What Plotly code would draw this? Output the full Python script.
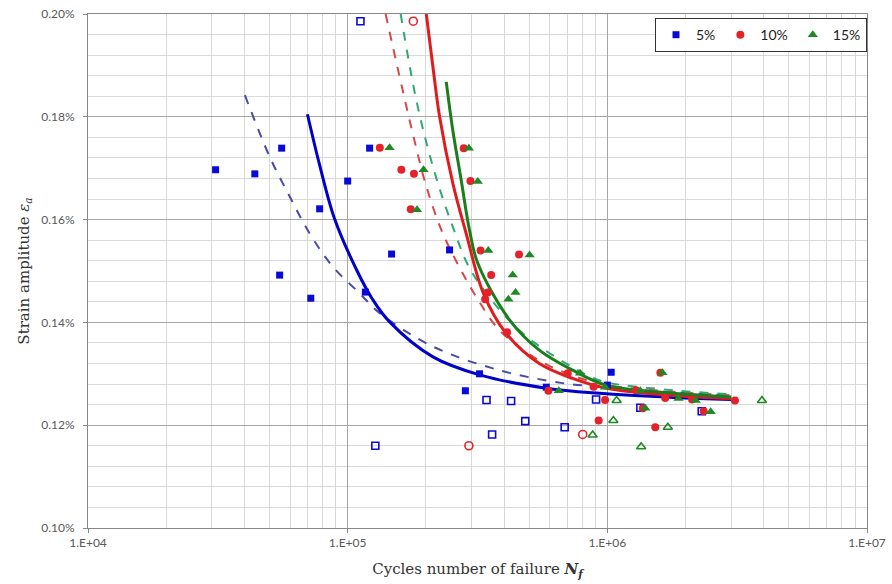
import plotly.graph_objects as go

# ---------- data (strain amplitude in %) ----------
n5_fill = [31000, 43900, 55700, 54700, 72100, 78000, 100000, 117000, 121500, 147600, 246800, 284000, 322000, 582000, 1035000, 1000000]
e5_fill = [0.1697, 0.1689, 0.1739, 0.1492, 0.1447, 0.1621, 0.1675, 0.1459, 0.1739, 0.1533, 0.1541, 0.1267, 0.1300, 0.1274, 0.1303, 0.1278]
n5_open = [112000, 127800, 342500, 360000, 426000, 483000, 685000, 905000, 1340000, 2310000]
e5_open = [0.1986, 0.1160, 0.1249, 0.1182, 0.1247, 0.1208, 0.1196, 0.1250, 0.1234, 0.1227]

n10_fill = [133000, 161000, 180000, 175000, 280000, 297000, 325000, 457000, 357000, 346600, 338500, 411000, 704000, 593000, 885000, 980000, 926000, 1600000, 1290000, 1670000, 2120000, 3100000, 1530000, 1370000, 2350000]
e10_fill = [0.1740, 0.1697, 0.1689, 0.1620, 0.1739, 0.1675, 0.1540, 0.1532, 0.1492, 0.1458, 0.1445, 0.1381, 0.1301, 0.1267, 0.1275, 0.1249, 0.1209, 0.1302, 0.1268, 0.1253, 0.1250, 0.1248, 0.1196, 0.1233, 0.1227]
n10_open = [179000, 293000, 804000]
e10_open = [0.1986, 0.1160, 0.1182]

n15_fill = [145000, 196000, 185000, 293000, 317000, 348000, 502000, 432000, 443000, 416000, 785000, 650000, 980000, 1630000, 1340000, 1880000, 2190000, 1400000, 2500000]
e15_fill = [0.1740, 0.1697, 0.1619, 0.1739, 0.1674, 0.1540, 0.1531, 0.1492, 0.1458, 0.1445, 0.1301, 0.1267, 0.1274, 0.1302, 0.1267, 0.1252, 0.1248, 0.1233, 0.1226]
n15_open = [1086000, 1055000, 878000, 1710000, 1350000, 3940000]
e15_open = [0.1248, 0.1209, 0.1181, 0.1196, 0.1158, 0.1248]

# fitted curves
fit5_n = [70000, 78000, 89100, 108300, 125000, 145000, 213000, 322000, 582000, 935000, 1800000, 3000000]
fit5_e = [0.1805, 0.1706, 0.1601, 0.1502, 0.1444, 0.1401, 0.1333, 0.1298, 0.1272, 0.1262, 0.1254, 0.1250]
fit5d_n = [40200, 50100, 59800, 71400, 87800, 111000, 132800, 213000, 384000, 690000, 935000, 1800000, 3000000]
fit5d_e = [0.1842, 0.1722, 0.1645, 0.1573, 0.1508, 0.1457, 0.1418, 0.1353, 0.1307, 0.1281, 0.1275, 0.1264, 0.1258]

fit10_n = [200800, 213000, 226000, 254000, 286000, 333000, 407000, 547000, 735000, 990000, 1800000, 3000000]
fit10_e = [0.2000, 0.1897, 0.1800, 0.1671, 0.1573, 0.1457, 0.1379, 0.1320, 0.1291, 0.1272, 0.1258, 0.1252]
fit10d_n = [140000, 158500, 178000, 201000, 232600, 277600, 312600, 384000, 550000, 750000, 1000000, 1800000, 3000000]
fit10d_e = [0.2000, 0.1878, 0.1768, 0.1664, 0.1573, 0.1495, 0.1450, 0.1385, 0.1325, 0.1295, 0.1278, 0.1265, 0.1258]

fit15_n = [239700, 254000, 273600, 294500, 317000, 420000, 547000, 735000, 990000, 1800000, 3000000]
fit15_e = [0.1868, 0.1774, 0.1677, 0.1580, 0.1515, 0.1405, 0.1346, 0.1307, 0.1278, 0.1262, 0.1255]
fit15d_n = [160000, 183700, 213000, 254000, 303000, 472000, 855000, 1000000, 1800000, 3000000]
fit15d_e = [0.2000, 0.1833, 0.1703, 0.1586, 0.1495, 0.1379, 0.1295, 0.1283, 0.1268, 0.1260]

x_tickvals = [1e4, 1e5, 1e6, 1e7]
x_ticktext = ["1.E+04", "1.E+05", "1.E+06", "1.E+07"]
x_minorvals = [m * d for d in (1e4, 1e5, 1e6) for m in range(2, 10)]
y_tickvals = [0.10, 0.12, 0.14, 0.16, 0.18, 0.20]
y_ticktext = ["0.10%", "0.12%", "0.14%", "0.16%", "0.18%", "0.20%"]

BLUE = "#0a0ad8"
RED = "#e4222a"
GREEN = "#1f8a24"

fig = go.Figure()

# fit lines
fig.add_trace(go.Scatter(x=fit5d_n, y=fit5d_e, mode="lines", line=dict(color="#4a4aa8", width=2, dash="dash", shape="spline"), showlegend=False))
fig.add_trace(go.Scatter(x=fit10d_n, y=fit10d_e, mode="lines", line=dict(color="#d24a4a", width=2, dash="dash", shape="spline"), showlegend=False))
fig.add_trace(go.Scatter(x=fit15d_n, y=fit15d_e, mode="lines", line=dict(color="#2fa873", width=2, dash="dash", shape="spline"), showlegend=False))
fig.add_trace(go.Scatter(x=fit5_n, y=fit5_e, mode="lines", line=dict(color="#0000c8", width=3, shape="spline"), showlegend=False))
fig.add_trace(go.Scatter(x=fit10_n, y=fit10_e, mode="lines", line=dict(color="#e01c1c", width=3, shape="spline"), showlegend=False))
fig.add_trace(go.Scatter(x=fit15_n, y=fit15_e, mode="lines", line=dict(color="#1b7d1b", width=3, shape="spline"), showlegend=False))

# open markers
fig.add_trace(go.Scatter(x=n5_open, y=e5_open, mode="markers", marker=dict(symbol="square-open", size=7, color=BLUE, line=dict(width=1.6)), showlegend=False))
fig.add_trace(go.Scatter(x=n10_open, y=e10_open, mode="markers", marker=dict(symbol="circle-open", size=8, color=RED, line=dict(width=1.6)), showlegend=False))
fig.add_trace(go.Scatter(x=n15_open, y=e15_open, mode="markers", marker=dict(symbol="triangle-up-open", size=8, color=GREEN, line=dict(width=1.6)), showlegend=False))

# filled markers (legend)
fig.add_trace(go.Scatter(x=n5_fill, y=e5_fill, mode="markers", name="5%", marker=dict(symbol="square", size=7, color=BLUE)))
fig.add_trace(go.Scatter(x=n10_fill, y=e10_fill, mode="markers", name="10%", marker=dict(symbol="circle", size=8, color=RED)))
fig.add_trace(go.Scatter(x=n15_fill, y=e15_fill, mode="markers", name="15%", marker=dict(symbol="triangle-up", size=9, color=GREEN)))

fig.update_layout(
    width=892, height=584,
    margin=dict(l=88, r=25, t=14, b=56, autoexpand=False),
    paper_bgcolor="white", plot_bgcolor="white",
    font=dict(family="Lato", size=12, color="#595959"),
    legend=dict(orientation="h", x=1.0, xanchor="right", y=0.992, yanchor="top",
                bordercolor="#333333", borderwidth=1, bgcolor="white",
                font=dict(family="Lato", size=14, color="#222222"),
                itemwidth=30, tracegroupgap=0),
)
fig.update_xaxes(
    type="log", range=[4, 7], automargin=False,
    tickvals=x_tickvals, ticktext=x_ticktext, ticklabeloverflow="allow",
    showgrid=True, gridcolor="#a6a6a6", gridwidth=1,
    minor=dict(showgrid=True, gridcolor="#d9d9d9", tickmode="array", tickvals=x_minorvals, ticks=""),
    showline=True, linecolor="#888888", mirror=True,
    ticks="outside", ticklen=4, tickcolor="#888888",
    zeroline=False,
    title=dict(text="Cycles number of failure <b><i>N<sub>f</sub></i></b>",
               font=dict(family="DejaVu Serif", size=15, color="#333333"), standoff=14),
)
fig.update_yaxes(
    range=[0.10, 0.20], automargin=False,
    tickvals=y_tickvals, ticktext=y_ticktext, ticklabeloverflow="allow",
    showgrid=True, gridcolor="#a6a6a6", gridwidth=1,
    minor=dict(showgrid=True, gridcolor="#d9d9d9", dtick=0.004, ticks=""),
    showline=True, linecolor="#888888", mirror=True,
    ticks="outside", ticklen=4, tickcolor="#888888", ticklabelstandoff=6,
    zeroline=False,
    title=dict(text="Strain amplitude <i>ε<sub>a</sub></i>",
               font=dict(family="DejaVu Serif", size=15, color="#333333"), standoff=8),
)

fig.write_html("out.html", config={"displayModeBar": False},
               post_script="document.body.style.margin='0';")
